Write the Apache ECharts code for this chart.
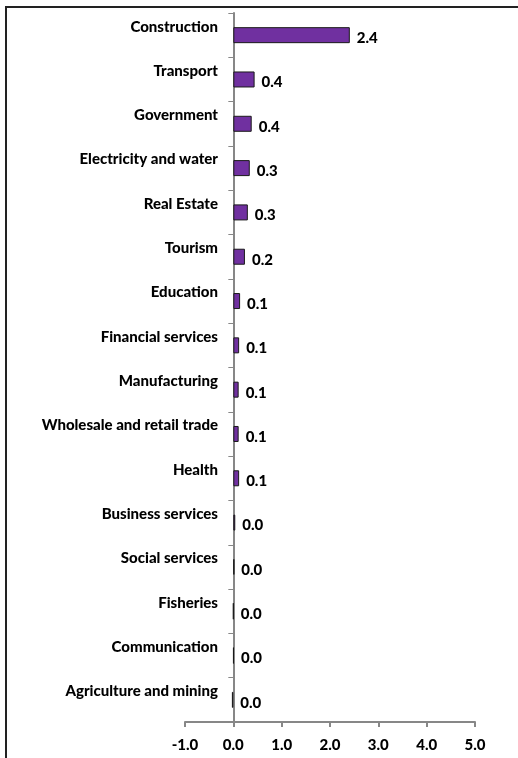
<!DOCTYPE html>
<html>
<head>
<meta charset="utf-8">
<script src="https://cdn.jsdelivr.net/npm/echarts@6/dist/echarts.min.js"></script>
<style>html,body{margin:0;padding:0;background:#fff;}#c{width:518px;height:758px;}</style>
</head>
<body>
<div id="c"></div>
<script>
const categories = ["Construction","Transport","Government","Electricity and water","Real Estate","Tourism","Education","Financial services","Manufacturing","Wholesale and retail trade","Health","Business services","Social services","Fisheries","Communication","Agriculture and mining"];
const values = [2.41, 0.44, 0.38, 0.34, 0.30, 0.24, 0.14, 0.12, 0.11, 0.11, 0.12, 0.04, 0.02, 0.0, 0.005, -0.03];
const xTicks = [-1, 0, 1, 2, 3, 4, 5];

const FONT = 'Lato, "Liberation Sans", sans-serif';
const WEIGHT = 900;
const chart = echarts.init(document.getElementById('c'));
function fmt(v){ let s = (Math.round(v*10)/10).toFixed(1); return s === '-0.0' ? '0.0' : s; }
chart.setOption({
  animation: false,
  backgroundColor: '#fff',
  grid: { left: 185, right: 43, top: 13, bottom: 36, containLabel: false, outerBoundsMode: 'none' },
  xAxis: {
    type: 'value', min: xTicks[0], max: xTicks[xTicks.length-1], interval: 1,
    axisLine: { show: true, lineStyle: { color: '#878787', width: 2 } },
    axisTick: { show: true, length: 5, lineStyle: { color: '#878787', width: 2 } },
    splitLine: { show: false },
    axisLabel: { formatter: v => v.toFixed(1), fontFamily: FONT, fontWeight: WEIGHT, fontSize: 15, color: '#000', margin: 16 }
  },
  yAxis: {
    type: 'category', data: categories, inverse: true,
    axisLine: { show: true, onZero: true, lineStyle: { color: '#878787', width: 2 } },
    axisTick: { show: true, length: 5, lineStyle: { color: '#878787', width: 1 } },
    axisLabel: { fontFamily: FONT, fontWeight: WEIGHT, fontSize: 15, color: '#000', margin: -33, verticalAlign: 'bottom', padding: [0,0,1,0] }
  },
  series: [{
    type: 'bar', data: values, barWidth: 16,
    itemStyle: { color: '#7030A0', borderColor: '#1a1a1a', borderWidth: 1 },
    label: { show: true, position: 'right', distance: 7, offset: [0, 3], formatter: p => fmt(p.value),
      fontFamily: FONT, fontWeight: WEIGHT, fontSize: 15, color: '#000' }
  }],
  graphic: [
    { type: 'line', shape: { x1: 5, y1: 7, x2: 518, y2: 7 }, style: { stroke: '#222', lineWidth: 2 } },
    { type: 'line', shape: { x1: 6, y1: 6, x2: 6, y2: 758 }, style: { stroke: '#222', lineWidth: 2 } }
  ]
});
</script>
</body>
</html>
